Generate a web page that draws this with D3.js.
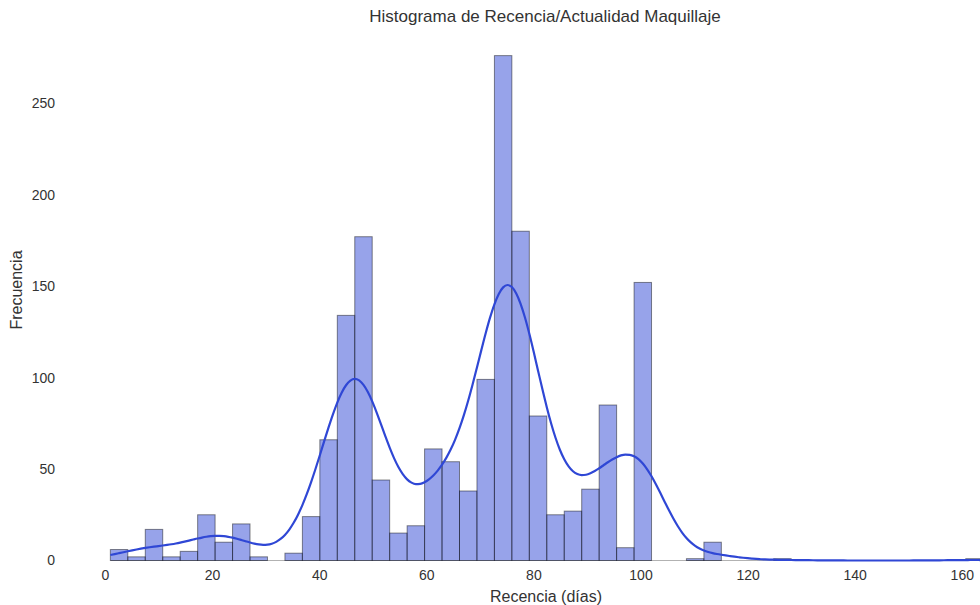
<!DOCTYPE html>
<html>
<head>
<meta charset="utf-8">
<script src="https://cdn.jsdelivr.net/npm/d3@7"></script>
<style>
  body { margin: 0; background: #fff; }
  text { font-family: "Liberation Sans", Arial, sans-serif; fill: #333; }
</style>
</head>
<body>
<div id="viz"></div>
<script>
// histogram bins (days), 50 bins between min and max of the data
var binStart = 1
var binEnd = 164
var binCounts = [6, 2, 17, 2, 5, 25, 10, 20, 2, 0,
  4, 24, 66, 134, 177, 44, 15, 19, 61, 54,
  38, 99, 276, 180, 79, 25, 27, 39, 85, 7,
  152, 0, 0, 1, 10, 0, 0, 0, 1, 0,
  0, 0, 0, 0, 0, 0, 0, 0, 0, 1]
var xTicks = [0, 20, 40, 60, 80, 100, 120, 140, 160]
var yTicks = [0, 50, 100, 150, 200, 250]

var title = "Histograma de Recencia/Actualidad Maquillaje"
var xLabel = "Recencia (días)"
var yLabel = "Frecuencia"

var width = 980, height = 605
var binWidth = (binEnd - binStart) / binCounts.length
var bins = binCounts.map(function (c, i) {
  return { x0: binStart + i * binWidth, x1: binStart + (i + 1) * binWidth, count: c }
})

var x = d3.scaleLinear().domain([0, 163.4]).range([105, 980])
var y = d3.scaleLinear().domain([0, 290]).range([560.5, 30])

var svg = d3.select("#viz")
  .append("svg")
  .attr("width", width)
  .attr("height", height)

// zero-height bars still leave their edge on the baseline
svg.append("line")
  .attr("x1", x(binStart)).attr("x2", x(binEnd))
  .attr("y1", y(0)).attr("y2", y(0))
  .style("stroke", "#000").style("stroke-opacity", 0.3)

svg.append("g")
  .selectAll("rect")
  .data(bins.filter(function (d) { return d.count > 0 }))
  .enter().append("rect")
  .attr("x", function (d) { return x(d.x0) })
  .attr("width", function (d) { return x(d.x1) - x(d.x0) })
  .attr("y", function (d) { return y(d.count) })
  .attr("height", function (d) { return y(0) - y(d.count) })
  .style("fill", "#2f47d5")
  .style("fill-opacity", 0.5)
  .style("stroke", "#000")
  .style("stroke-opacity", 0.45)
  .style("stroke-width", 1)

// gaussian kde of the binned values, scaled to counts
var n = d3.sum(bins, function (d) { return d.count })
var mids = bins.map(function (d) { return (d.x0 + d.x1) / 2 })
var mean = d3.sum(bins, function (d, i) { return d.count * mids[i] }) / n
var sd = Math.sqrt(d3.sum(bins, function (d, i) { return d.count * (mids[i] - mean) * (mids[i] - mean) }) / (n - 1))
var bw = sd * Math.pow(n, -0.2)

function kde(v) {
  var s = 0
  bins.forEach(function (d, i) {
    var u = (v - mids[i]) / bw
    s += d.count * Math.exp(-0.5 * u * u)
  })
  return s / (bw * Math.sqrt(2 * Math.PI)) * binWidth
}

var grid = d3.range(binStart, binEnd + 0.01, (binEnd - binStart) / 200)
var line = d3.line()
  .x(function (v) { return x(v) })
  .y(function (v) { return y(kde(v)) })
  .curve(d3.curveMonotoneX)

svg.append("path")
  .attr("d", line(grid))
  .style("fill", "none")
  .style("stroke", "#2f47d5")
  .style("stroke-width", 2.2)

// axes, no spines or tick marks
var xAxis = svg.append("g")
  .attr("transform", "translate(0," + y(0) + ")")
  .call(d3.axisBottom(x).tickValues(xTicks).tickSize(0).tickPadding(10))
xAxis.select(".domain").remove()
xAxis.selectAll("text").style("font-size", "14px").style("fill", "#333")

var yAxis = svg.append("g")
  .attr("transform", "translate(55,0)")
  .call(d3.axisLeft(y).tickValues(yTicks).tickSize(0).tickPadding(0))
yAxis.select(".domain").remove()
yAxis.selectAll("text").style("font-size", "14px").style("fill", "#333")

svg.append("text")
  .attr("x", 545).attr("y", 22)
  .attr("text-anchor", "middle")
  .style("font-size", "17px")
  .text(title)

svg.append("text")
  .attr("x", 546).attr("y", 602)
  .attr("text-anchor", "middle")
  .style("font-size", "16px")
  .text(xLabel)

svg.append("text")
  .attr("transform", "translate(22,290) rotate(-90)")
  .attr("text-anchor", "middle")
  .style("font-size", "16px")
  .text(yLabel)
</script>
</body>
</html>
